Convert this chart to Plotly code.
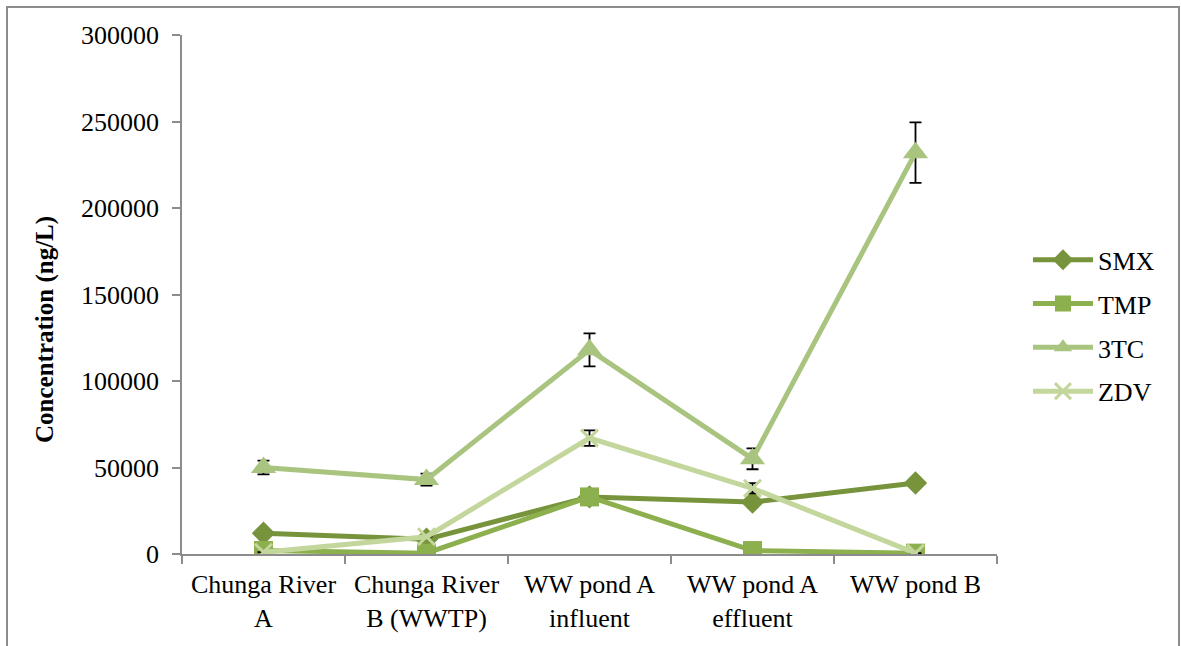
import plotly.graph_objects as go

sites = ["Chunga River<br>A", "Chunga River<br>B (WWTP)", "WW pond A<br>influent",
         "WW pond A<br>effluent", "WW pond B"]

smx = [12000, 8500, 33000, 30000, 41000]
smx_err = [0, 0, 0, 2500, 0]
tmp = [2000, 500, 33000, 2000, 500]
tmp_err = [0, 0, 0, 0, 0]
tc3 = [50000, 43000, 118000, 55000, 232000]
tc3_err = [4000, 3500, 9500, 6000, 17500]
zdv = [1000, 10000, 67000, 38000, 500]
zdv_err = [0, 0, 4500, 3000, 0]

series = [
    ("SMX", smx, smx_err, "#77933C", "diamond", 18),
    ("TMP", tmp, tmp_err, "#8DB04F", "square", 19),
    ("3TC", tc3, tc3_err, "#A9C47F", "triangle-up", 22),
    ("ZDV", zdv, zdv_err, "#C3D69B", "x-thin", 17),
]

fig = go.Figure()
for i, (name, vals, errs, color, sym, size) in enumerate(series):
    marker = dict(symbol=sym, size=size, color=color)
    if sym == "x-thin":
        marker["line"] = dict(color=color, width=3)
    fig.add_trace(go.Scatter(
        x=sites, y=vals, name=name, mode="lines+markers",
        line=dict(color=color, width=5),
        marker=marker,
        error_y=dict(type="data", array=errs, visible=True,
                     color="black", thickness=1.8, width=6),
        legendgroup=name,
    ))

font_family = "Liberation Serif, Times New Roman, serif"

fig.update_layout(
    width=1181, height=646,
    margin=dict(l=182, r=184, t=35, b=92),
    paper_bgcolor="white", plot_bgcolor="white",
    font=dict(family=font_family, size=26, color="black"),
    showlegend=True,
    legend=dict(x=1.038, y=0.612, xanchor="left", yanchor="top",
                font=dict(size=26), tracegroupgap=7,
                itemwidth=60, bgcolor="rgba(0,0,0,0)"),
    xaxis=dict(
        type="category", range=[-0.5, 4.5],
        showline=True, linecolor="#8C8C8C", linewidth=1.5,
        ticks="outside", tickson="boundaries", ticklen=8,
        tickcolor="#8C8C8C", tickwidth=1.5,
        showgrid=False, zeroline=False,
        tickfont=dict(size=26), ticklabelstandoff=6,
    ),
    yaxis=dict(
        range=[0, 300000], dtick=50000, tickformat="d",
        showline=True, linecolor="#8C8C8C", linewidth=1.5,
        ticks="outside", ticklen=8, tickcolor="#8C8C8C", tickwidth=1.5,
        showgrid=False, zeroline=False,
        tickfont=dict(size=26), ticklabelstandoff=8,
    ),
    annotations=[dict(
        text="<b>Concentration (ng/L)</b>", textangle=-90,
        xref="paper", yref="paper",
        x=(45 - 182) / 815, y=(554 - 330) / 519,
        xanchor="center", yanchor="middle", showarrow=False,
        font=dict(size=25, family=font_family, color="black"),
    )],
    shapes=[dict(
        type="rect", xref="paper", yref="paper",
        x0=(7 - 182) / 815, x1=(1179 - 182) / 815,
        y0=-0.3, y1=(554 - 7) / 519,
        line=dict(color="#8C8C8C", width=2), fillcolor="rgba(0,0,0,0)",
        layer="below",
    )],
)

fig.write_html("out.html")
